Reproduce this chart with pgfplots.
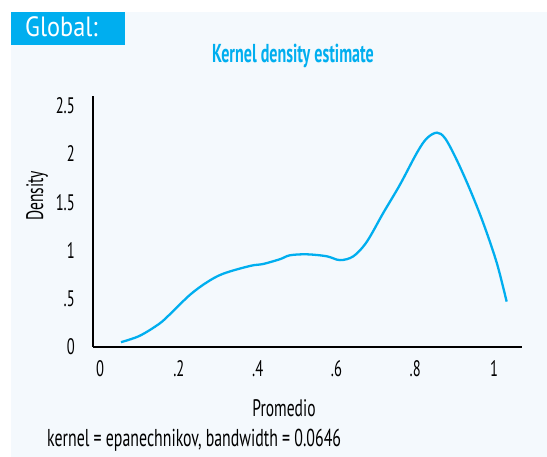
\documentclass[border=0pt]{standalone}
\usepackage{fontspec}
\usepackage{pgfplots}
\pgfplotsset{compat=1.18}
\setmainfont{PT Sans}
\newfontfamily\cond[FakeStretch=0.65]{PT Sans}
\newfontfamily\condt[FakeStretch=0.62]{PT Sans}
\newfontfamily\condg[FakeStretch=0.87]{PT Sans}
\definecolor{bgblue}{RGB}{244,249,253}
\definecolor{stblue}{RGB}{0,174,239}

\begin{document}
\begin{tikzpicture}[x=1bp,y=1bp]
  % page background and header box
  \fill[white] (0,0) rectangle (547,457);
  \fill[bgblue] (11,0) rectangle (547,445);
  \fill[stblue] (11,412) rectangle (125,445);
  \node[anchor=base west, inner sep=0pt, text=white, font=\condg\fontsize{28}{30}\selectfont] at (25,420) {Global:};
  \node[anchor=base, inner sep=0pt, text=stblue, font=\condt\bfseries\fontsize{26}{28}\selectfont] at (293,394) {Kernel density estimate};

  \begin{axis}[
    scale only axis,
    width=429bp, height=251bp,
    at={(93bp,110bp)}, anchor=south west,
    xmin=-0.018, xmax=1.071,
    ymin=0, ymax=2.6,
    axis lines*=left,
    axis line style={-, line width=1.1pt, black},
    major tick length=0pt,
    xtick={0,0.2,0.4,0.6,0.8,1},
    xticklabels={0,.2,.4,.6,.8,1},
    ytick={0,0.5,1,1.5,2,2.5},
    yticklabels={0,.5,1,1.5,2,2.5},
    xticklabel style={anchor=base, inner sep=0pt, yshift=-30bp, font=\cond\fontsize{22.5}{24}\selectfont},
    yticklabel style={anchor=base east, inner sep=0pt, xshift=-18bp, yshift=-8bp, font=\cond\fontsize{22.5}{24}\selectfont},
    clip=false,
  ]
    \addplot[stblue, line width=2.3pt, smooth, tension=0.55] coordinates {
      (0.053,0.05) (0.10,0.115) (0.15,0.24) (0.18,0.35) (0.228,0.54)
      (0.271,0.67) (0.313,0.76) (0.381,0.84) (0.414,0.86) (0.457,0.91)
      (0.482,0.95) (0.525,0.96) (0.575,0.94) (0.609,0.90) (0.643,0.94)
      (0.677,1.09) (0.719,1.39) (0.761,1.68) (0.804,2.01) (0.829,2.16)
      (0.855,2.22) (0.876,2.16) (0.905,1.94) (0.939,1.63) (0.973,1.28)
      (1.007,0.87) (1.032,0.47)
    };
  \end{axis}

  \node[anchor=center, rotate=90, inner sep=0pt, font=\cond\fontsize{24}{26}\selectfont] at (37,261) {Density};
  \node[anchor=base, inner sep=0pt, font=\cond\fontsize{24}{26}\selectfont] at (284,40) {Promedio};
  \node[anchor=base west, inner sep=0pt, font=\cond\fontsize{24.5}{26}\selectfont] at (47,10) {kernel = epanechnikov, bandwidth = 0.0646};
  \useasboundingbox (0,0) rectangle (547,457);
\end{tikzpicture}
\end{document}
